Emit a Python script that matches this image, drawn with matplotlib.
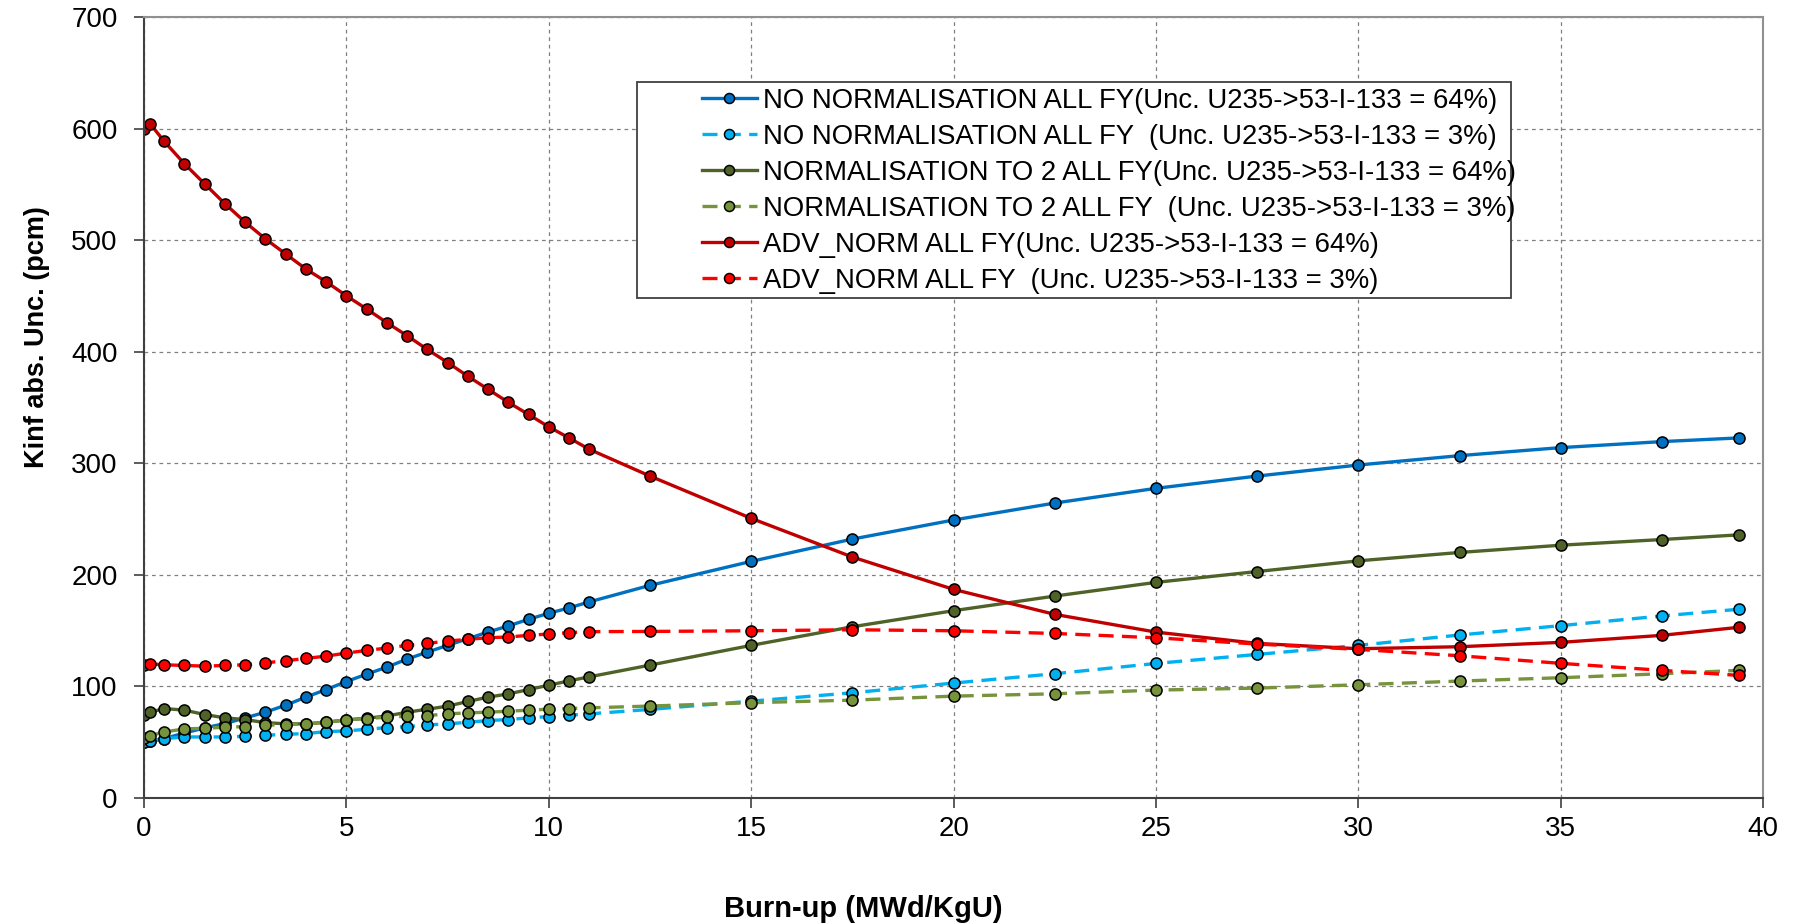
import matplotlib.pyplot as plt
from matplotlib.patches import Rectangle
from matplotlib.ticker import MultipleLocator

burnup = [0, 0.15, 0.5, 1, 1.5, 2, 2.5, 3, 3.5, 4, 4.5, 5, 5.5, 6, 6.5, 7, 7.5, 8,
          8.5, 9, 9.5, 10, 10.5, 11, 12.5, 15, 17.5, 20, 22.5, 25, 27.5, 30, 32.5,
          35, 37.5, 39.4]

no_norm_64 = [50.2, 50.8, 53.2, 58.3, 62.8, 66.7, 71.8, 76.9, 83.2, 90.4, 97.2, 104.4,
              111.0, 117.3, 124.5, 130.8, 136.8, 142.8, 148.8, 154.2, 160.2, 165.6,
              170.4, 175.8, 190.6, 212.1, 232.1, 249.2, 264.4, 277.6, 288.6, 298.5,
              306.9, 314.1, 319.5, 322.8]
no_norm_3 = [50.2, 50.8, 53.2, 54.7, 54.7, 54.7, 55.3, 56.2, 57.1, 57.7, 59.5, 60.1,
             61.6, 63.1, 64.0, 65.5, 66.4, 67.9, 69.4, 70.3, 71.8, 73.0, 74.2, 75.4,
             79.4, 86.8, 94.3, 103.0, 111.4, 120.6, 128.7, 136.8, 146.1, 154.5,
             163.2, 169.2]
norm2_64 = [74.8, 76.9, 80.2, 78.7, 74.8, 71.8, 70.3, 67.5, 66.5, 66.4, 67.9, 70.0,
            71.5, 73.5, 76.9, 79.6, 82.3, 86.5, 90.4, 93.3, 97.2, 101.1, 105.0, 108.6,
            119.1, 136.8, 153.5, 167.9, 181.0, 193.3, 203.0, 212.6, 220.1, 226.6,
            231.7, 235.9]
norm2_3 = [53.8, 55.9, 59.2, 61.9, 62.5, 63.4, 64.0, 65.2, 65.8, 66.4, 67.9, 70.0,
           71.2, 72.4, 73.3, 73.9, 75.4, 76.3, 76.9, 77.8, 78.7, 79.6, 80.2, 80.8,
           82.4, 85.4, 87.7, 91.3, 93.4, 96.7, 98.5, 101.5, 104.8, 107.8, 111.4, 114.4]
adv_64 = [600.0, 604.5, 588.6, 568.5, 550.5, 532.7, 516.2, 501.2, 487.7, 474.2, 462.8,
          450.2, 438.4, 426.1, 414.4, 402.1, 390.4, 378.1, 366.4, 354.7, 343.8, 332.7,
          322.8, 312.6, 288.6, 250.7, 216.0, 187.0, 164.6, 148.7, 138.6, 133.8, 135.6,
          139.5, 145.8, 153.0]
adv_3 = [119.1, 120.3, 119.4, 118.8, 118.2, 118.8, 119.4, 121.2, 123.0, 125.1, 127.2,
         129.9, 132.3, 134.4, 136.8, 138.6, 140.7, 142.2, 143.7, 144.3, 145.8, 147.0,
         148.2, 149.1, 149.3, 149.9, 150.8, 149.9, 147.5, 143.6, 138.0, 133.2, 127.5,
         120.7, 114.4, 109.9]

labels = [
    "NO NORMALISATION ALL FY(Unc. U235->53-I-133 = 64%)",
    "NO NORMALISATION ALL FY  (Unc. U235->53-I-133 = 3%)",
    "NORMALISATION TO 2 ALL FY(Unc. U235->53-I-133 = 64%)",
    "NORMALISATION TO 2 ALL FY  (Unc. U235->53-I-133 = 3%)",
    "ADV_NORM ALL FY(Unc. U235->53-I-133 = 64%)",
    "ADV_NORM ALL FY  (Unc. U235->53-I-133 = 3%)",
]
series = [no_norm_64, no_norm_3, norm2_64, norm2_3, adv_64, adv_3]
colors = ["#0070C0", "#00B0F0", "#4F6228", "#77933C", "#C00000", "#FF0000"]
styles = ["-", "--", "-", "--", "-", "--"]

plt.rcParams['font.family'] = ['Liberation Sans', 'DejaVu Sans']

W, H = 1798, 924
fig = plt.figure(figsize=(W / 100, H / 100), dpi=100)
ax = fig.add_axes([0.0801, 0.1364, 0.9005, 0.845])

for ys, lab, c, ls in zip(series, labels, colors, styles):
    line, = ax.plot(burnup, ys, ls, color=c, lw=2.4, marker='o', ms=8,
                    mfc=c, mec='black', mew=1.1, label=lab)
    if ls == '--':
        line.set_dashes((4.5, 2.5))

ax.set_xlim(0, 40)
ax.set_ylim(0, 700)
ax.xaxis.set_major_locator(MultipleLocator(5))
ax.yaxis.set_major_locator(MultipleLocator(100))
ax.grid(True, color='#808080', ls=(0, (3, 3)), lw=0.9)
ax.set_axisbelow(True)

for s in ['left', 'bottom']:
    ax.spines[s].set_color('#404040')
    ax.spines[s].set_linewidth(1.5)
for s in ['top', 'right']:
    ax.spines[s].set_color('#909090')
    ax.spines[s].set_linewidth(1.5)

ax.tick_params(axis='both', direction='out', length=7, width=1.2, color='#404040',
               labelsize=20)
ax.tick_params(axis='y', pad=12)
ax.tick_params(axis='x', pad=6)

fig.text(863 / W, 1 - 909 / H, "Burn-up (MWd/KgU)", fontsize=21,
         fontweight='bold', ha='center', va='center')
fig.text(37 / W, 1 - 337 / H, "Kinf abs. Unc. (pcm)", fontsize=19.5,
         fontweight='bold', ha='center', va='center', rotation=90)

# legend box drawn separately: wide left margin, tight top/bottom
fig.patches.append(Rectangle((637 / W, 1 - 297.7 / H), (1511 - 637) / W,
                             (297.7 - 81.7) / H, transform=fig.transFigure,
                             facecolor='white', edgecolor='#404040', lw=1.3,
                             zorder=5))
leg = fig.legend(loc='upper left', bbox_to_anchor=(701.7 / W, 1 - 88 / H),
                 frameon=False, fontsize=19.8, handlelength=2.0,
                 handletextpad=0.22, labelspacing=0.36, borderpad=0,
                 borderaxespad=0, markerscale=0.9)
leg.set_zorder(6)

fig.savefig("out.png", dpi=100)
